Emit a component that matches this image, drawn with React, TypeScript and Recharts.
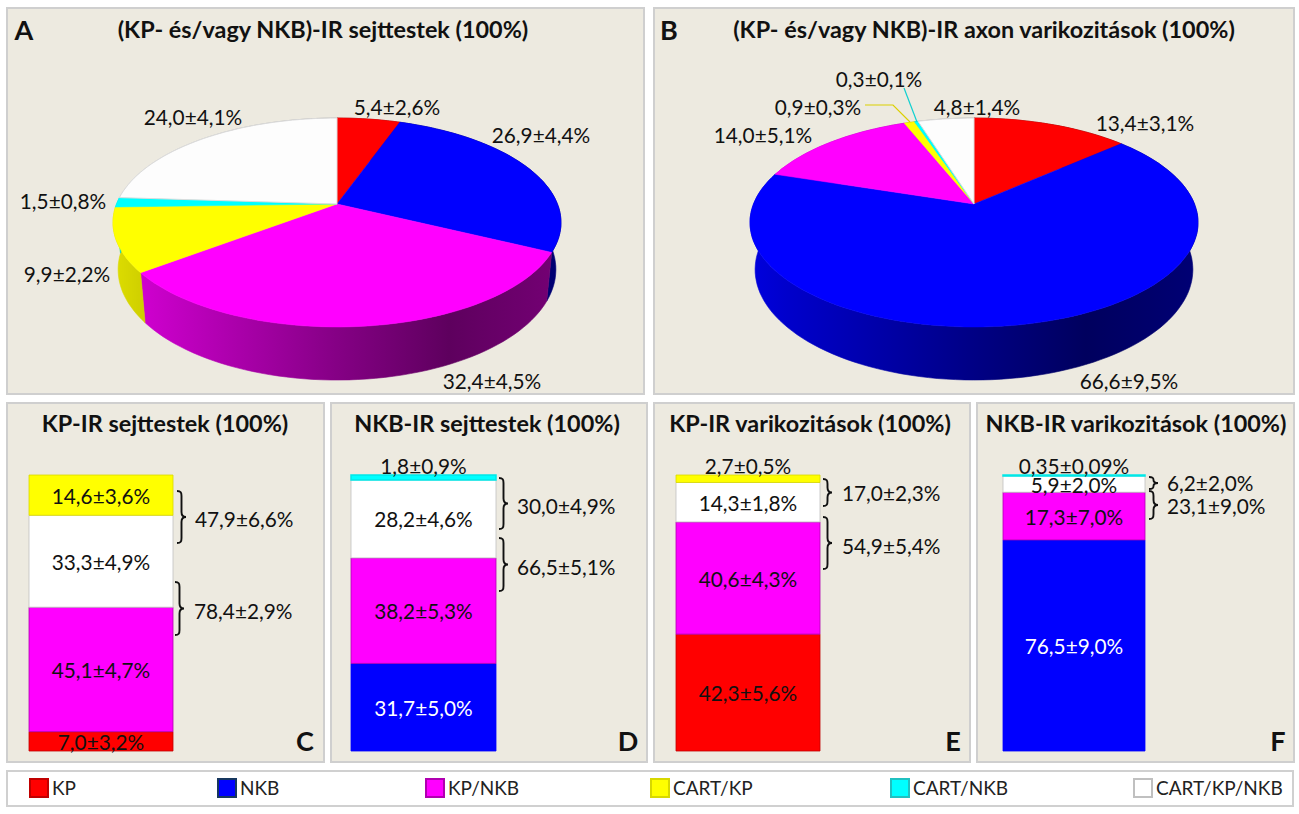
import React from "react"
import { PieChart, Pie, BarChart, Bar, XAxis, YAxis, LabelList } from "recharts"

const FONT = "Lato, Carlito, sans-serif"

const categories = ["KP", "NKB", "KP/NKB", "CART/KP", "CART/NKB", "CART/KP/NKB"]
const colors: Record<string, string> = {
    KP: "#ff0000",
    NKB: "#0000ff",
    "KP/NKB": "#ff00ff",
    "CART/KP": "#ffff00",
    "CART/NKB": "#00ffff",
    "CART/KP/NKB": "#ffffff",
}
const borders: Record<string, string> = {
    KP: "#c00000",
    NKB: "#17375e",
    "KP/NKB": "#b000b0",
    "CART/KP": "#d8d800",
    "CART/NKB": "#20c0c0",
    "CART/KP/NKB": "#c0c0c0",
}

// pie values, same order as categories
const pieAValues = [5.4, 26.9, 32.4, 9.9, 1.5, 24.0]
const pieALabels = ["5,4±2,6%", "26,9±4,4%", "32,4±4,5%", "9,9±2,2%", "1,5±0,8%", "24,0±4,1%"]
const pieBValues = [13.4, 66.6, 14.0, 0.9, 0.3, 4.8]
const pieBLabels = ["13,4±3,1%", "66,6±9,5%", "14,0±5,1%", "0,9±0,3%", "0,3±0,1%", "4,8±1,4%"]

const pieALabelPos = [[397, 106], [541, 134], [492, 380], [67, 273], [63, 200], [193, 116]]
const pieBLabelPos = [[1145, 122], [1129, 380], [763, 134], [818, 106], [879, 78], [977, 106]]

// stacked columns, bottom to top
const colCKeys = ["KP", "KP/NKB", "CART/KP/NKB", "CART/KP"]
const colCValues = [7.0, 45.1, 33.3, 14.6]
const colCLabels = ["7,0±3,2%", "45,1±4,7%", "33,3±4,9%", "14,6±3,6%"]

const colDKeys = ["NKB", "KP/NKB", "CART/KP/NKB", "CART/NKB"]
const colDValues = [31.7, 38.2, 28.2, 1.8]
const colDLabels = ["31,7±5,0%", "38,2±5,3%", "28,2±4,6%", "1,8±0,9%"]

const colEKeys = ["KP", "KP/NKB", "CART/KP/NKB", "CART/KP"]
const colEValues = [42.3, 40.6, 14.3, 2.7]
const colELabels = ["42,3±5,6%", "40,6±4,3%", "14,3±1,8%", "2,7±0,5%"]

const colFKeys = ["NKB", "KP/NKB", "CART/KP/NKB", "CART/NKB"]
const colFValues = [76.5, 17.3, 5.9, 0.35]
const colFLabels = ["76,5±9,0%", "17,3±7,0%", "5,9±2,0%", "0,35±0,09%"]

// perspective of the 3D disc
const K = 0.177
const A = 101.2
const B = 220.5
const BASE = 0.977
const DEPTH = 46

const shade = (hex: string, m: number) => {
    const n = parseInt(hex.slice(1), 16)
    const c = [(n >> 16) & 255, (n >> 8) & 255, n & 255].map((v) => Math.round(v * m))
    return `rgb(${c[0]},${c[1]},${c[2]})`
}
const wallStops = [[0, 0.87], [0.08, 0.8], [0.5, 0.52], [0.75, 0.37], [1, 0.46]]

const arcAngles = (start: number, end: number) => {
    const n = Math.max(2, Math.ceil(Math.abs(end - start) / 2))
    const out: number[] = []
    for (let i = 0; i <= n; i++) out.push(start + ((end - start) * i) / n)
    return out
}
const topPt = (deg: number, cx: number, cy: number) => {
    const a = (deg * Math.PI) / 180
    const u = Math.cos(a)
    const v = -Math.sin(a)
    const s = 1 / (1 - K * v)
    return `${(cx + B * u * s).toFixed(1)},${(cy + A * v * s).toFixed(1)}`
}
const basePt = (deg: number, cx: number, cy: number) => {
    const a = (deg * Math.PI) / 180
    const u = Math.cos(a)
    const v = -Math.sin(a)
    const s = 1 / (1 - K * v)
    return `${(cx + BASE * B * u * s).toFixed(1)},${(cy + (BASE * A * v + DEPTH) * s).toFixed(1)}`
}

function WallSector(props: any) {
    const { cx, cy, startAngle, endAngle, name } = props
    const angles = arcAngles(startAngle, endAngle)
    const top = angles.map((d) => topPt(d, cx, cy))
    const base = angles.slice().reverse().map((d) => basePt(d, cx, cy))
    const id = `url(#wall-${categories.indexOf(name)}-${Math.round(cx)})`
    return <polygon points={[...top, ...base].join(" ")} fill={id} stroke={id} strokeWidth={0.6} />
}

function TopSector(props: any) {
    const { cx, cy, startAngle, endAngle, name } = props
    const pts = arcAngles(startAngle, endAngle).map((d) => topPt(d, cx, cy))
    const white = name === "CART/KP/NKB"
    return (
        <polygon
            points={[`${cx},${cy}`, ...pts].join(" ")}
            fill={white ? "#fdfdfd" : colors[name]}
            stroke={white ? "#dcdcdc" : colors[name]}
            strokeWidth={white ? 1 : 0.5}
        />
    )
}

const TEXT_SIZE = 20.8

function Pie3D({ left, width, height, cx, cy, values, labels, labelPos }: any) {
    const data = categories.map((name, i) => ({ name, value: values[i] }))
    const renderLabel = (p: any) => (
        <text
            key={p.index}
            x={labelPos[p.index][0] - left}
            y={labelPos[p.index][1]}
            textAnchor="middle"
            dominantBaseline="central"
            fontFamily={FONT}
            fontSize={TEXT_SIZE}
            fill="#111"
        >
            {labels[p.index]}
        </text>
    )
    return (
        <div style={{ position: "absolute", left, top: 0 }}>
            <PieChart width={width} height={height} margin={{ top: 0, right: 0, bottom: 0, left: 0 }}>
                <defs>
                    {categories.map((name, i) => (
                        <linearGradient
                            key={name}
                            id={`wall-${i}-${cx}`}
                            gradientUnits="userSpaceOnUse"
                            x1={cx - 224}
                            x2={cx + 224}
                            y1={0}
                            y2={0}
                        >
                            {wallStops.map(([o, m]) => (
                                <stop key={o} offset={o} stopColor={shade(colors[name], m)} />
                            ))}
                        </linearGradient>
                    ))}
                </defs>
                <Pie
                    data={data}
                    dataKey="value"
                    nameKey="name"
                    cx={cx}
                    cy={cy}
                    outerRadius={200}
                    startAngle={90}
                    endAngle={-270}
                    stroke="none"
                    shape={WallSector}
                    isAnimationActive={false}
                />
                <Pie
                    data={data}
                    dataKey="value"
                    nameKey="name"
                    cx={cx}
                    cy={cy}
                    outerRadius={200}
                    startAngle={90}
                    endAngle={-270}
                    stroke="none"
                    shape={TopSector}
                    label={renderLabel}
                    labelLine={false}
                    isAnimationActive={false}
                />
            </PieChart>
        </div>
    )
}

function StackColumn({ x, top, width, height, keys, values, labels, lightOn }: any) {
    const row: Record<string, number | string> = { name: "all" }
    keys.forEach((k: string, i: number) => (row[k] = values[i]))
    const total = values.reduce((a: number, b: number) => a + b, 0)
    return (
        <div style={{ position: "absolute", left: x - 2, top: top - 30 }}>
            <BarChart
                width={width + 4}
                height={height + 32}
                data={[row]}
                barCategoryGap={0}
                margin={{ top: 30, right: 2, bottom: 2, left: 2 }}
            >
                <XAxis dataKey="name" hide />
                <YAxis type="number" domain={[0, total]} hide />
                {keys.map((k: string, i: number) => (
                    <Bar
                        key={k}
                        dataKey={k}
                        stackId="a"
                        fill={colors[k]}
                        stroke={k === "NKB" ? colors[k] : k === "CART/NKB" ? "#00e8e8" : borders[k]}
                        strokeWidth={k === "CART/NKB" ? 1.5 : 0.8}
                        isAnimationActive={false}
                    >
                        <LabelList
                            dataKey={k}
                            content={(p: any) => {
                                const h = Math.abs(p.height)
                                const y = h < 9 ? Math.min(p.y, p.y + p.height) - 10 : p.y + p.height / 2
                                return (
                                    <text
                                        x={p.x + p.width / 2}
                                        y={y}
                                        textAnchor="middle"
                                        dominantBaseline="central"
                                        fontFamily={FONT}
                                        fontSize={TEXT_SIZE}
                                        fill={k === lightOn ? "#fff" : "#111"}
                                    >
                                        {labels[i]}
                                    </text>
                                )
                            }}
                        />
                    </Bar>
                ))}
            </BarChart>
        </div>
    )
}

const panels = [
    { x: 6, y: 7, w: 639, h: 388 },
    { x: 653, y: 7, w: 642, h: 388 },
    { x: 6, y: 402, w: 319, h: 361 },
    { x: 330, y: 402, w: 318, h: 361 },
    { x: 653, y: 402, w: 318, h: 361 },
    { x: 976, y: 402, w: 319, h: 361 },
]

const titles = [
    { text: "(KP- és/vagy NKB)-IR sejttestek (100%)", x: 323, y: 29 },
    { text: "(KP- és/vagy NKB)-IR axon varikozitások (100%)", x: 984, y: 29 },
    { text: "KP-IR sejttestek (100%)", x: 165, y: 423 },
    { text: "NKB-IR sejttestek (100%)", x: 487, y: 423 },
    { text: "KP-IR varikozitások (100%)", x: 810, y: 423 },
    { text: "NKB-IR varikozitások (100%)", x: 1136, y: 423 },
]

const letters = [
    { text: "A", x: 24, y: 29 },
    { text: "B", x: 669, y: 29 },
    { text: "C", x: 305, y: 740 },
    { text: "D", x: 628, y: 740 },
    { text: "E", x: 953, y: 740 },
    { text: "F", x: 1278, y: 740 },
]

const braces = [
    { x: 177, y0: 491, y1: 543, text: "47,9±6,6%", tx: 195, ty: 518 },
    { x: 175, y0: 582, y1: 635, text: "78,4±2,9%", tx: 194, ty: 610 },
    { x: 499, y0: 478, y1: 529, text: "30,0±4,9%", tx: 517, ty: 505 },
    { x: 499, y0: 538, y1: 591, text: "66,5±5,1%", tx: 517, ty: 566 },
    { x: 823, y0: 479, y1: 506, text: "17,0±2,3%", tx: 842, ty: 492 },
    { x: 823, y0: 517, y1: 569, text: "54,9±5,4%", tx: 842, ty: 545 },
    { x: 1149, y0: 477, y1: 489, text: "6,2±2,0%", tx: 1167, ty: 482 },
    { x: 1149, y0: 491, y1: 519, text: "23,1±9,0%", tx: 1167, ty: 505 },
]

const legendSwatchX = [29, 217, 425, 650, 890, 1133]

const bracePath = (x: number, y0: number, y1: number) => {
    const m = (y0 + y1) / 2
    const w = 9
    const r = Math.min(5, (y1 - y0) / 4)
    return `M${x},${y0} C${x + 4},${y0} ${x + 4.5},${y0 + r / 3} ${x + 4.5},${y0 + r}
        L${x + 4.5},${m - r} C${x + 4.5},${m - r / 3} ${x + 6},${m} ${x + w},${m}
        C${x + 6},${m} ${x + 4.5},${m + r / 3} ${x + 4.5},${m + r}
        L${x + 4.5},${y1 - r} C${x + 4.5},${y1 - r / 3} ${x + 4},${y1} ${x},${y1}`
}

export default function App() {
    return (
        <div style={{ position: "absolute", left: 0, top: 0, width: 1299, height: 814, background: "#fff", overflow: "hidden", fontFamily: FONT }}>
            {panels.map((p, i) => (
                <div
                    key={i}
                    style={{
                        position: "absolute",
                        left: p.x,
                        top: p.y,
                        width: p.w,
                        height: p.h,
                        boxSizing: "border-box",
                        background: "#edeae0",
                        border: "2px solid #cfcfcf",
                    }}
                />
            ))}

            <Pie3D left={0} width={650} height={400} cx={337} cy={204} values={pieAValues} labels={pieALabels} labelPos={pieALabelPos} />
            <Pie3D left={650} width={649} height={400} cx={324} cy={204} values={pieBValues} labels={pieBLabels} labelPos={pieBLabelPos} />

            <StackColumn x={29} top={475} width={144} height={276} keys={colCKeys} values={colCValues} labels={colCLabels} />
            <StackColumn x={351} top={475} width={145} height={276} keys={colDKeys} values={colDValues} labels={colDLabels} lightOn="NKB" />
            <StackColumn x={676} top={475} width={144} height={276} keys={colEKeys} values={colEValues} labels={colELabels} />
            <StackColumn x={1003} top={475} width={142} height={276} keys={colFKeys} values={colFValues} labels={colFLabels} lightOn="NKB" />

            <svg width={1299} height={814} style={{ position: "absolute", left: 0, top: 0, pointerEvents: "none" }}>
                <polyline points="865,105 893,105 910,122" fill="none" stroke="#dccf00" strokeWidth={1.2} />
                <line x1={904} y1={88} x2={917} y2={122} stroke="#10d0d0" strokeWidth={1.2} />
                {titles.map((t) => (
                    <text key={t.text} x={t.x} y={t.y} textAnchor="middle" dominantBaseline="central" fontFamily={FONT} fontWeight={700} fontSize={23.4} fill="#111">
                        {t.text}
                    </text>
                ))}
                {letters.map((t) => (
                    <text key={t.text} x={t.x} y={t.y} textAnchor="middle" dominantBaseline="central" fontFamily={FONT} fontWeight={700} fontSize={27} fill="#111">
                        {t.text}
                    </text>
                ))}
                {braces.map((b) => (
                    <g key={b.text}>
                        <path d={bracePath(b.x, b.y0, b.y1)} fill="none" stroke="#111" strokeWidth={1.9} />
                        <text x={b.tx} y={b.ty} dominantBaseline="central" fontFamily={FONT} fontSize={TEXT_SIZE} fill="#111">
                            {b.text}
                        </text>
                    </g>
                ))}
            </svg>

            <div
                style={{
                    position: "absolute",
                    left: 6,
                    top: 770,
                    width: 1288,
                    height: 37,
                    boxSizing: "border-box",
                    background: "#fff",
                    border: "2px solid #d0d0d0",
                }}
            />
            {categories.map((name, i) => (
                <div key={name}>
                    <div
                        style={{
                            position: "absolute",
                            left: legendSwatchX[i],
                            top: 778,
                            width: 20,
                            height: 20,
                            boxSizing: "border-box",
                            background: colors[name],
                            border: `2px solid ${borders[name]}`,
                        }}
                    />
                    <div style={{ position: "absolute", left: legendSwatchX[i] + 23, top: 776, lineHeight: "24px", fontSize: 19, color: "#222" }}>
                        {name}
                    </div>
                </div>
            ))}
        </div>
    )
}
